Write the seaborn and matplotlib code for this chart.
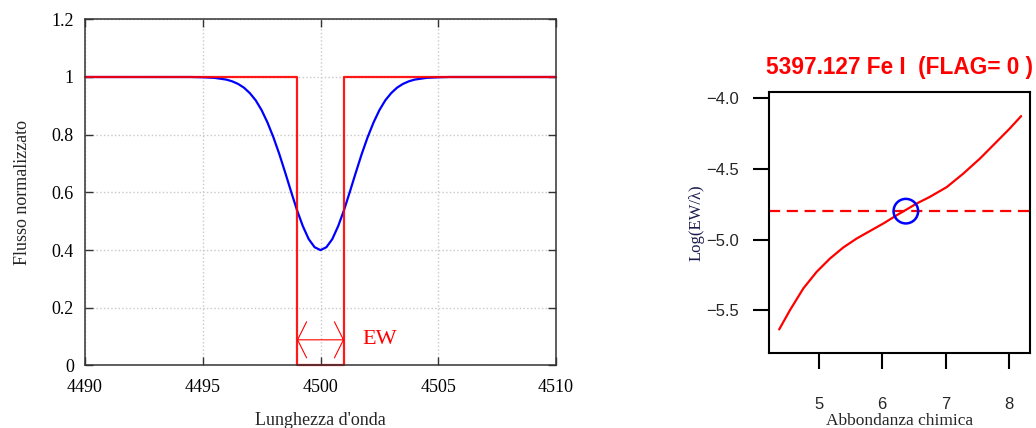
import matplotlib
matplotlib.use('Agg')
import matplotlib.pyplot as plt
import pandas as pd
import seaborn as sns

# --- left panel: line profile (blue) and equal-area box (red) ---
wave = [4490, 4493, 4494, 4494.5, 4495, 4495.5, 4496, 4496.25, 4496.5, 4496.75,
        4497, 4497.25, 4497.5, 4497.75, 4498, 4498.25, 4498.5, 4498.75, 4499,
        4499.25, 4499.5, 4499.75, 4500,
        4500.25, 4500.5, 4500.75, 4501, 4501.25, 4501.5, 4501.75, 4502, 4502.25,
        4502.5, 4502.75, 4503, 4503.25, 4503.5, 4503.75, 4504, 4504.5, 4505,
        4505.5, 4506, 4507, 4510]
flux = [1.0, 1.0, 1.0, 1.0, 0.999, 0.997, 0.991, 0.985, 0.976, 0.963,
        0.944, 0.919, 0.885, 0.842, 0.791, 0.733, 0.669, 0.603, 0.539,
        0.483, 0.438, 0.410, 0.400,
        0.410, 0.438, 0.483, 0.539, 0.603, 0.669, 0.733, 0.791, 0.842,
        0.885, 0.919, 0.944, 0.963, 0.976, 0.985, 0.991, 0.997, 0.999,
        1.0, 1.0, 1.0, 1.0]
box_wave = [4490, 4499, 4499, 4501, 4501, 4510]
box_flux = [1, 1, 0, 0, 1, 1]
ew_start, ew_end, ew_level = 4499, 4501, 0.089
xticks_left = [4490, 4495, 4500, 4505, 4510]
yticks_left = [0, 0.2, 0.4, 0.6, 0.8, 1.0, 1.2]
ytick_labels_left = ['0', '0.2', '0.4', '0.6', '0.8', '1', '1.2']

# --- right panel: curve of growth ---
abund = [4.38, 4.55, 4.76, 4.97, 5.18, 5.39, 5.60, 5.81, 6.02, 6.23, 6.38,
         6.55, 6.75, 7.02, 7.28, 7.54, 7.80, 8.01, 8.19]
logew = [-5.634, -5.498, -5.345, -5.228, -5.134, -5.056, -4.993, -4.940, -4.887,
         -4.829, -4.790, -4.745, -4.700, -4.630, -4.535, -4.430, -4.313, -4.218, -4.130]
measured_logew = -4.80
solution_abund = 6.375
xticks_right = [5, 6, 7, 8]
yticks_right = [-4.0, -4.5, -5.0, -5.5]
title_right = '5397.127 Fe I  (FLAG= 0 )'

sns.set_theme(style='white')
plt.rcParams['font.family'] = ['Liberation Serif', 'DejaVu Serif']

fig = plt.figure(figsize=(10.36, 4.28), dpi=100)
ax = fig.add_axes([0.08205, 0.14603, 0.45463, 0.80888])
ax2 = fig.add_axes([0.74228, 0.17523, 0.25193, 0.60981])

prof = pd.DataFrame({'wave': wave, 'flux': flux})
box = pd.DataFrame({'wave': box_wave, 'flux': box_flux})
sns.lineplot(data=prof, x='wave', y='flux', color='blue', lw=1.6, ax=ax)
sns.lineplot(data=box, x='wave', y='flux', color='red', lw=1.6, sort=False,
             estimator=None, ax=ax, alpha=0.9, solid_joinstyle='round', clip_on=False)
ax.annotate('', xy=(ew_start, ew_level), xytext=(ew_end, ew_level),
            arrowprops=dict(arrowstyle='<->,head_length=0.65,head_width=1.3',
                            color='red', lw=0.8, shrinkA=0, shrinkB=0, mutation_scale=10))
ax.text(ew_end + 0.79, ew_level, 'EW', color='red', fontsize=16, va='center', ha='left')

ax.set_xlim(4490, 4510)
ax.set_ylim(0, 1.2)
ax.set_xticks(xticks_left)
ax.set_xticklabels([str(v) for v in xticks_left])
ax.set_yticks(yticks_left)
ax.set_yticklabels(ytick_labels_left)
ax.grid(True, color='#c8c8c8', ls=':', lw=1)
ax.tick_params(direction='in', length=6, width=1, colors='#333333', labelcolor='black',
               labelsize=13, top=True, right=True, bottom=True, left=True)
ax.tick_params(axis='x', pad=10)
ax.tick_params(axis='y', pad=8)
for s in ax.spines.values():
    s.set_color('#333333')
    s.set_linewidth(1.1)
ax.set_xlabel("Lunghezza d'onda", fontsize=13, labelpad=11)
ax.set_ylabel('Flusso normalizzato', fontsize=13, labelpad=15)

# right panel
cog = pd.DataFrame({'abund': abund, 'logew': logew})
sns.lineplot(data=cog, x='abund', y='logew', color='red', lw=1.6, ax=ax2)
ax2.axhline(measured_logew, color='red', lw=1.6, dashes=(5, 3))
sns.scatterplot(x=[solution_abund], y=[measured_logew], s=313, marker='o',
                facecolors='none', edgecolor='blue', linewidth=1.8, ax=ax2, zorder=5)
ax2.set_xlim(4.22, 8.33)
ax2.set_ylim(-5.80, -3.96)
ax2.set_xticks(xticks_right)
ax2.set_xticklabels([str(v) for v in xticks_right], family='Liberation Sans')
ax2.set_yticks(yticks_right)
ax2.set_yticklabels([f'{v:.1f}'.replace('-', '\u2212') for v in yticks_right],
                    family='Liberation Sans')
ax2.tick_params(direction='out', length=11.5, width=1.5, color='black', labelsize=12,
                bottom=True, left=True)
ax2.tick_params(axis='x', pad=20)
ax2.tick_params(axis='y', pad=10)
for s in ax2.spines.values():
    s.set_color('black')
    s.set_linewidth(1.5)
ax2.set_title(title_right, color='red', fontweight='bold', fontsize=16.3,
              family='Liberation Sans', pad=13)
ax2.set_xlabel('Abbondanza chimica', fontsize=12.5, labelpad=1)
ax2.set_ylabel('Log(EW/\u03bb)', fontsize=12, labelpad=1, color='#1c1c4c')

fig.savefig('out.png', dpi=100)
